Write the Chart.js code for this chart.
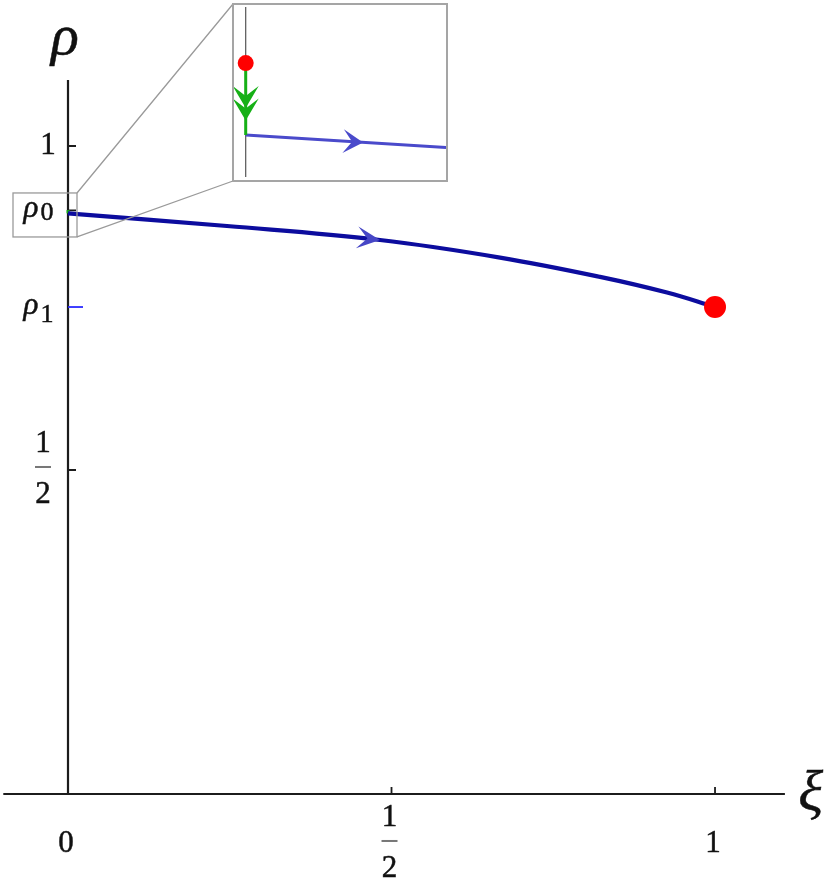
<!DOCTYPE html>
<html>
<head>
<meta charset="utf-8">
<script src="https://cdn.jsdelivr.net/npm/chart.js@4.4.0/dist/chart.umd.min.js"></script>
<style>
  html, body { margin: 0; padding: 0; background: #fff; }
  #wrap { position: relative; width: 830px; height: 888px; }
  #inset { position: absolute; left: 232px; top: 3px; width: 212px; height: 175px;
           border: 2px solid #a5a5a5; background: #fff; }
  canvas { display: block; }
</style>
</head>
<body>
<div id="wrap">
  <canvas id="main" width="830" height="888"></canvas>
  <div id="inset"><canvas id="zoom" width="212" height="175"></canvas></div>
</div>
<script>
// trajectory rho(xi)
const xi  = [0, 0.2457, 0.4822, 0.6677, 0.8223, 0.9258, 1];
const rho = [0.8961, 0.8765, 0.8549, 0.8278, 0.7980, 0.7738, 0.7515];
const rho0 = 0.8961;
const rho1 = 0.7515;

// axis ticks
const xTickValues = [0, 0.5, 1];
const xTickLabels = ['0', '1/2', '1'];
const yTickValues = [1, 0.5];
const yTickLabels = ['1', '1/2'];

// magnified piece near (0, rho0)
const zoomStartRho = 0.9235;        // red start point, above rho0
const zoomCurveXi  = [0, 0.0904];
const zoomCurveRho = [rho0, 0.8913];
const zoomBoxXi  = [-0.085, 0.0139];
const zoomBoxRho = [0.8596, 0.9275];

const SERIF = '"Liberation Serif", "DejaVu Serif", serif';

function pts(xs, ys) {
  return xs.map((v, i) => ({x: v, y: ys[i]}));
}

function arrowHead(ctx, x, y, ang, len, half, color) {
  ctx.save();
  ctx.translate(x, y);
  ctx.rotate(ang);
  ctx.fillStyle = color;
  ctx.beginPath();
  ctx.moveTo(0, 0);
  ctx.lineTo(-len, -half);
  ctx.lineTo(-len * 0.55, 0);
  ctx.lineTo(-len, half);
  ctx.closePath();
  ctx.fill();
  ctx.restore();
}

// arrows on datasets: idx = at a data point, t = fraction along a straight line
const arrowPlugin = {
  id: 'arrows',
  afterDatasetsDraw(chart) {
    const ctx = chart.ctx;
    chart.data.datasets.forEach((ds, i) => {
      const a = ds.arrow;
      if (!a) return;
      const p = chart.getDatasetMeta(i).data;
      (a.idx || []).forEach(k => {
        const pt = p[k];
        let dx, dy;
        if (pt.cp2x !== undefined) { dx = pt.cp2x - pt.cp1x; dy = pt.cp2y - pt.cp1y; }
        else { dx = p[k + 1].x - p[k - 1].x; dy = p[k + 1].y - p[k - 1].y; }
        arrowHead(ctx, pt.x, pt.y, Math.atan2(dy, dx), a.len, a.half, a.color);
      });
      (a.t || []).forEach(t => {
        const p0 = p[0], p1 = p[p.length - 1];
        const x = p0.x + (p1.x - p0.x) * t, y = p0.y + (p1.y - p0.y) * t;
        arrowHead(ctx, x, y, Math.atan2(p1.y - p0.y, p1.x - p0.x), a.len, a.half, a.color);
      });
    });
  }
};

// text a bit heavier, like the original rendering
function txt(ctx, s, x, y) {
  ctx.fillText(s, x, y);
  ctx.strokeText(s, x, y);
}

function digit(ctx, s, cx, cy, size) {
  ctx.font = size + 'px ' + SERIF;
  ctx.textAlign = 'center';
  ctx.textBaseline = 'alphabetic';
  txt(ctx, s, cx, cy + size * 0.33);
}

function label(ctx, s, cx, cy, size) {
  if (s.indexOf('/') < 0) { digit(ctx, s, cx, cy, size); return; }
  const [n, d] = s.split('/');
  digit(ctx, n, cx, cy - 25, size);
  digit(ctx, d, cx, cy + 26, size);
  ctx.fillStyle = '#777';
  ctx.fillRect(cx - 8, cy - 1, 16, 2);
  ctx.fillStyle = '#111';
}

const axesPlugin = {
  id: 'axes',
  beforeDatasetsDraw(chart) {
    const ctx = chart.ctx;
    const sx = chart.scales.x, sy = chart.scales.y;
    const ox = sx.getPixelForValue(0), oy = sy.getPixelForValue(0);
    ctx.save();
    ctx.strokeStyle = '#1c1c1c';
    ctx.lineWidth = 2.2;
    ctx.beginPath();
    ctx.moveTo(sx.getPixelForValue(-0.1), oy);
    ctx.lineTo(sx.getPixelForValue(1.108), oy);
    ctx.moveTo(ox, oy);
    ctx.lineTo(ox, sy.getPixelForValue(1.102));
    ctx.stroke();

    ctx.lineWidth = 1.8;
    ctx.beginPath();
    xTickValues.forEach(v => {
      if (v === 0) return;
      const px = sx.getPixelForValue(v);
      ctx.moveTo(px, oy); ctx.lineTo(px, oy - 7);
    });
    yTickValues.concat([rho0]).forEach(v => {
      const py = sy.getPixelForValue(v) - (v === rho0 ? 3 : 0);
      ctx.moveTo(ox, py); ctx.lineTo(ox + 8, py);
    });
    ctx.stroke();
    ctx.strokeStyle = '#2b2bff';
    ctx.beginPath();
    ctx.moveTo(ox, sy.getPixelForValue(rho1));
    ctx.lineTo(ox + 15, sy.getPixelForValue(rho1));
    ctx.stroke();

    // tick labels
    ctx.fillStyle = '#111';
    ctx.strokeStyle = '#111';
    ctx.lineWidth = 0.5;
    xTickValues.forEach((v, i) => {
      const px = sx.getPixelForValue(v) - 2;
      if (xTickLabels[i].indexOf('/') < 0) label(ctx, xTickLabels[i], px, oy + 48, 31);
      else label(ctx, xTickLabels[i], px, oy + 47, 31);
    });
    yTickValues.forEach((v, i) => {
      const py = sy.getPixelForValue(v);
      if (yTickLabels[i].indexOf('/') < 0) label(ctx, yTickLabels[i], ox - 20, py - 2, 31);
      else label(ctx, yTickLabels[i], ox - 25, py - 3, 31);
    });

    // rho0 / rho1 marks
    const r0 = sy.getPixelForValue(rho0), r1 = sy.getPixelForValue(rho1);
    ctx.textAlign = 'center';
    ctx.textBaseline = 'alphabetic';
    ctx.font = 'italic 31px ' + SERIF;
    txt(ctx, 'ρ', ox - 37, r0 + 4);
    txt(ctx, 'ρ', ox - 37, r1 + 7);
    ctx.font = '26px ' + SERIF;
    txt(ctx, '0', ox - 21, r0 + 7);
    txt(ctx, '1', ox - 21, r1 + 15);

    // axis names
    ctx.font = 'italic 58px ' + SERIF;
    txt(ctx, 'ρ', ox - 3, 54);
    txt(ctx, 'ξ', sx.getPixelForValue(1.148), oy + 16);
    ctx.restore();
  },
  afterDraw(chart) {
    const ctx = chart.ctx;
    const sx = chart.scales.x, sy = chart.scales.y;
    const l = sx.getPixelForValue(zoomBoxXi[0]), r = sx.getPixelForValue(zoomBoxXi[1]);
    const t = sy.getPixelForValue(zoomBoxRho[1]), b = sy.getPixelForValue(zoomBoxRho[0]);
    const box = document.getElementById('inset');
    const il = box.offsetLeft + 1, it = box.offsetTop + 1, ib = it + box.offsetHeight - 2;
    ctx.save();
    ctx.strokeStyle = '#9a9a9a';
    ctx.lineWidth = 1.3;
    ctx.strokeRect(l, t, r - l, b - t);
    ctx.beginPath();
    ctx.moveTo(r, t); ctx.lineTo(il, it);
    ctx.moveTo(r, b); ctx.lineTo(il, ib);
    ctx.stroke();
    ctx.restore();
  }
};

const hiddenScales = (xmin, xmax, ymin, ymax) => ({
  x: {type: 'linear', display: false, min: xmin, max: xmax},
  y: {type: 'linear', display: false, min: ymin, max: ymax}
});

new Chart(document.getElementById('main'), {
  type: 'scatter',
  data: {
    datasets: [
      {
        data: [{x: 1, y: rho1}],
        pointRadius: 11, pointBackgroundColor: '#ff0000', pointBorderWidth: 0,
        order: 0
      },
      {
        data: pts(xi, rho),
        showLine: true, borderColor: '#0c0c9e', borderWidth: 4.2,
        pointRadius: 0, tension: 0.4,
        arrow: {idx: [2], len: 23, half: 11, color: '#4646c6'},
        order: 1
      },
      {
        data: [{x: 0, y: rho0}, {x: 0, y: rho0 + 0.005}],
        showLine: true, borderColor: '#16b016', borderWidth: 3, pointRadius: 0,
        order: 2
      }
    ]
  },
  options: {
    responsive: false,
    animation: false,
    layout: {padding: 0, autoPadding: false},
    plugins: {legend: {display: false}, tooltip: {enabled: false}},
    scales: hiddenScales(-0.1051, 1.1777, -0.1451, 1.2253)
  },
  plugins: [axesPlugin, arrowPlugin]
});

const zoomAxisPlugin = {
  id: 'zoomAxis',
  beforeDatasetsDraw(chart) {
    const ctx = chart.ctx, a = chart.chartArea;
    const ox = chart.scales.x.getPixelForValue(0);
    ctx.save();
    ctx.strokeStyle = '#555';
    ctx.lineWidth = 1.2;
    ctx.beginPath();
    ctx.moveTo(ox, a.top + 2);
    ctx.lineTo(ox, a.bottom - 3);
    ctx.stroke();
    ctx.restore();
  }
};

new Chart(document.getElementById('zoom'), {
  type: 'scatter',
  data: {
    datasets: [
      {
        data: [{x: 0, y: zoomStartRho}],
        pointRadius: 8, pointBackgroundColor: '#ff0000', pointBorderWidth: 0,
        order: 0
      },
      {
        data: [{x: 0, y: zoomStartRho}, {x: 0, y: rho0}],
        showLine: true, borderColor: '#16b016', borderWidth: 3, pointRadius: 0,
        arrow: {t: [0.625, 0.8], len: 22, half: 13, color: '#16b016'},
        order: 1
      },
      {
        data: pts(zoomCurveXi, zoomCurveRho),
        showLine: true, borderColor: '#4a4acb', borderWidth: 3, pointRadius: 0,
        arrow: {t: [0.586], len: 20, half: 12, color: '#4a4acb'},
        order: 2
      }
    ]
  },
  options: {
    responsive: false,
    animation: false,
    layout: {padding: 0, autoPadding: false},
    plugins: {legend: {display: false}, tooltip: {enabled: false}},
    scales: hiddenScales(-0.00528, 0.09039, 0.87896, 0.94562)
  },
  plugins: [zoomAxisPlugin, arrowPlugin]
});
</script>
</body>
</html>
